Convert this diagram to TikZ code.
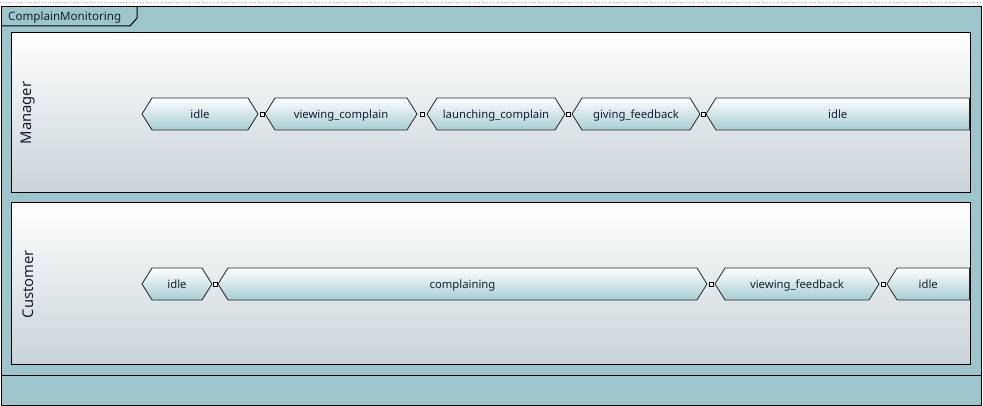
\documentclass[tikz,border=0pt]{standalone}
\usepackage{fontspec}
\setmainfont{Noto Sans}
\definecolor{frameteal}{RGB}{156,198,203}
\definecolor{lanebot}{RGB}{200,211,216}
\definecolor{statebot}{RGB}{166,205,210}
\definecolor{txt}{RGB}{28,28,48}
\tikzset{
  lanebox/.style={draw=black, line width=1pt, top color=white, bottom color=lanebot},
  statetxt/.style={font=\fontsize{11.3}{13}\selectfont, text=txt, inner sep=0pt, anchor=base},
  lanetxt/.style={font=\fontsize{14.8}{17}\selectfont, text=txt, inner sep=0pt, rotate=90},
  junction/.style={draw=black, fill=white, minimum size=4pt, inner sep=0pt, line width=0.8pt},
  statebox/.style={draw=black!85, line width=0.8pt, top color=white, bottom color=statebot},
}
\newcommand\hexstate[5]{%
  \shade[statebox] (#2,#4) -- ({#2+10},{#4-16}) -- ({#3-10},{#4-16}) -- (#3,#4) -- ({#3-10},{#4+16}) -- ({#2+10},{#4+16}) -- cycle;
  \node[statetxt] (#1) at ({(#2+#3)/2},{#4+4.3}) {#5};}
\newcommand\hexcut[5]{%
  \shade[statebox] (#2,#4) -- ({#2+10},{#4-16}) -- (#3,{#4-16}) -- (#3,{#4+16}) -- ({#2+10},{#4+16}) -- cycle;
  \node[statetxt] (#1) at ({(#2+#3)/2},{#4+4.3}) {#5};}
\begin{document}
\begin{tikzpicture}[x=1pt, y=-1pt]
  \useasboundingbox (0,0) rectangle (983,406);
  \fill[white] (0,0) rectangle (983,406);
  \draw[gray!60, dotted, line width=0.8pt] (0,2.5) -- (983,2.5);
  % outer frame
  \draw[fill=frameteal, line width=1pt] (1,7) rectangle (981,405);
  \draw[line width=1pt] (1,375) -- (981,375);
  % tab
  \draw[line width=1pt] (137,7) -- (137,18) -- (130,26) -- (1,26);
  \node[font=\fontsize{11.6}{13}\selectfont, text=txt, anchor=base west, inner sep=0pt] (title) at (8,21) {ComplainMonitoring};
  % lanes
  \shade[lanebox] (11,33) rectangle (970,193);
  \shade[lanebox] (11,203) rectangle (970,364);
  \node[lanetxt] (manager) at (28,113) {Manager};
  \node[lanetxt] (customer) at (28,284) {Customer};
  % Manager states
  \hexstate{m1}{142}{258}{114}{idle}
  \hexstate{m2}{265}{417}{114}{viewing\_complain}
  \hexstate{m3}{427}{565}{114}{launching\_complain}
  \hexstate{m4}{572}{700}{114}{giving\_feedback}
  \hexcut{m5}{706}{969.5}{114}{idle}
  \node[junction] (mj1) at (262,114) {};
  \node[junction] (mj2) at (422.5,114) {};
  \node[junction] (mj3) at (568.5,114) {};
  \node[junction] (mj4) at (703,114) {};
  % Customer states
  \hexstate{c1}{142}{212}{284}{idle}
  \hexstate{c2}{218}{707}{284}{complaining}
  \hexstate{c3}{715}{879}{284}{viewing\_feedback}
  \hexcut{c4}{887}{969.5}{284}{idle}
  \node[junction] (cj1) at (215,284) {};
  \node[junction] (cj2) at (711,284) {};
  \node[junction] (cj3) at (883,284) {};
\end{tikzpicture}
\end{document}
